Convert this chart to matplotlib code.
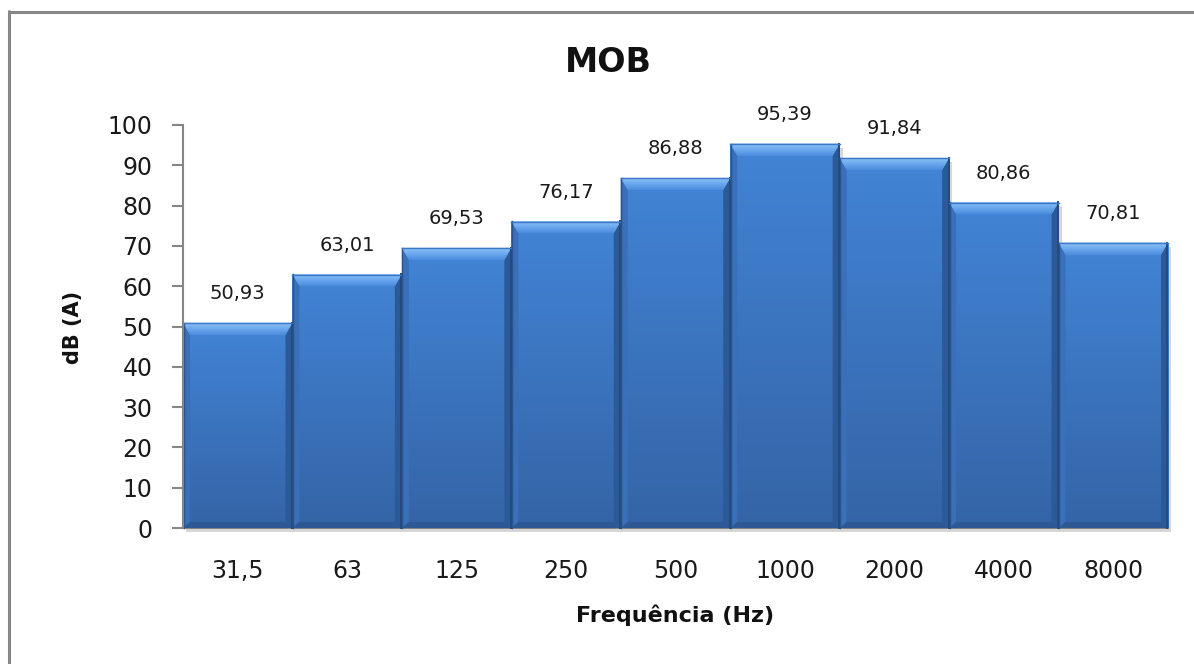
import matplotlib
matplotlib.use("Agg")
import matplotlib.pyplot as plt
import numpy as np
from matplotlib.patches import Polygon, Rectangle
from matplotlib.lines import Line2D
from matplotlib.colors import LinearSegmentedColormap
from matplotlib.transforms import IdentityTransform

categories = ["31,5", "63", "125", "250", "500", "1000", "2000", "4000", "8000"]
values = [50.93, 63.01, 69.53, 76.17, 86.88, 95.39, 91.84, 80.86, 70.81]
value_labels = ["50,93", "63,01", "69,53", "76,17", "86,88", "95,39", "91,84", "80,86", "70,81"]
y_ticks = [0, 10, 20, 30, 40, 50, 60, 70, 80, 90, 100]

W, H, DPI = 1194, 664, 100
fig = plt.figure(figsize=(W / DPI, H / DPI), dpi=DPI)
fig.patch.set_facecolor("white")

ax = fig.add_axes([183 / W, 1 - 528 / H, (1168 - 183) / W, (528 - 125) / H])
ax.set_facecolor("none")

x = np.arange(len(categories))
bars = ax.bar(x, values, width=1.0, color="#3f7ccc", edgecolor="none", zorder=2)

ax.set_xlim(-0.5, len(categories) - 0.5)
ax.set_ylim(0, 100)
ax.set_autoscale_on(False)
ax.set_yticks(y_ticks)
ax.set_xticks(x)
ax.set_xticklabels(categories)

for s in ["top", "right"]:
    ax.spines[s].set_visible(False)
for s in ["left", "bottom"]:
    ax.spines[s].set_color("#868686")
    ax.spines[s].set_linewidth(1.5)
ax.spines["left"].set_zorder(5)
ax.spines["bottom"].set_zorder(1.8)
ax.tick_params(axis="y", length=8, width=1.5, color="#868686", pad=14, labelsize=17)
ax.tick_params(axis="x", length=0, pad=22, labelsize=17)
for lab in ax.get_xticklabels() + ax.get_yticklabels():
    lab.set_color("#1a1a1a")

cmap_body = LinearSegmentedColormap.from_list("body", ["#3464a6", "#4284d6"])
cmap_top = LinearSegmentedColormap.from_list("topb", ["#4a8bdc", "#6aa7ee", "#8dc2f6"])
grad = np.linspace(0, 1, 256).reshape(-1, 1)

fig.canvas.draw()
to_disp = ax.transData.transform
to_data = ax.transData.inverted().transform
ID = IdentityTransform()

for rect, v, lab in zip(bars, values, value_labels):
    x0 = rect.get_x()
    w = rect.get_width()
    h = rect.get_height()
    im = ax.imshow(grad, extent=[x0, x0 + w, 0, h], origin="lower", aspect="auto",
                   cmap=cmap_body, zorder=2.1, interpolation="bilinear")
    im.set_clip_path(rect)
    (L, B) = to_disp((x0, 0))
    (R, T) = to_disp((x0 + w, h))
    bt, bs, bb = 12, 7, 6
    sh = Rectangle((L + 3, B - 4), R - L, T - B, transform=ID, facecolor="#a8a8a8",
                   alpha=0.45, edgecolor="none", zorder=1.5, clip_on=False)
    ax.add_artist(sh)
    left = Polygon([(L, T), (L + bs, T - bt), (L + bs, B + bb), (L, B)], closed=True,
                   transform=ID, facecolor="#3a70ba", edgecolor="none", zorder=3, clip_on=False)
    right = Polygon([(R, T), (R - bs, T - bt), (R - bs, B + bb), (R, B)], closed=True,
                    transform=ID, facecolor="#2c5a98", edgecolor="none", zorder=3, clip_on=False)
    bottom = Polygon([(L, B), (R, B), (R - bs, B + bb), (L + bs, B + bb)], closed=True,
                     transform=ID, facecolor="#2e5893", edgecolor="none", zorder=3, clip_on=False)
    top = Polygon([(L, T), (R, T), (R - bs, T - bt), (L + bs, T - bt)], closed=True,
                  transform=ID, facecolor="#5d9ce8", edgecolor="none", zorder=3.05, clip_on=False)
    for a in (left, right, bottom, top):
        ax.add_artist(a)
    ybt = to_data((L, T - bt))[1]
    imt = ax.imshow(grad, extent=[x0, x0 + w, ybt, h], origin="lower", aspect="auto",
                    cmap=cmap_top, zorder=3.1, interpolation="bilinear")
    imt.set_clip_path(top)
    edge_l = Line2D([L + 0.5, L + 0.5], [B, T], transform=ID, color="#2a548c",
                    linewidth=1.0, zorder=3.3, clip_on=False)
    edge_r = Line2D([R - 0.6, R - 0.6], [B, T], transform=ID, color="#244a7e",
                    linewidth=1.4, zorder=3.3, clip_on=False)
    edge_t = Line2D([L, R], [T - 0.5, T - 0.5], transform=ID, color="#3d78c6",
                    linewidth=1.0, zorder=3.3, clip_on=False)
    for a in (edge_l, edge_r, edge_t):
        ax.add_artist(a)
    ax.annotate(lab, xy=(x0 + w / 2, h), xytext=(0, 14), textcoords="offset points",
                ha="center", va="bottom", fontsize=14, color="#1a1a1a", zorder=6,
                annotation_clip=False)

fig.text(608 / W, 1 - 62 / H, "MOB", ha="center", va="center", fontsize=24,
         fontweight="bold", color="#111111")
fig.text(73 / W, 1 - 327 / H, "dB (A)", ha="center", va="center", rotation=90,
         fontsize=15, fontweight="bold", color="#111111")
fig.text(675 / W, 1 - 615 / H, "Frequência (Hz)", ha="center", va="center",
         fontsize=16, fontweight="bold", color="#111111")

fig.add_artist(Line2D([8.5, W + 5], [H - 11.5, H - 11.5], transform=ID,
                      color="#878787", linewidth=2.2, solid_capstyle="butt"))
fig.add_artist(Line2D([8.5, 8.5], [-5, H - 10], transform=ID,
                      color="#878787", linewidth=2.2, solid_capstyle="butt"))

fig.savefig("out.png", dpi=DPI, facecolor="white")
